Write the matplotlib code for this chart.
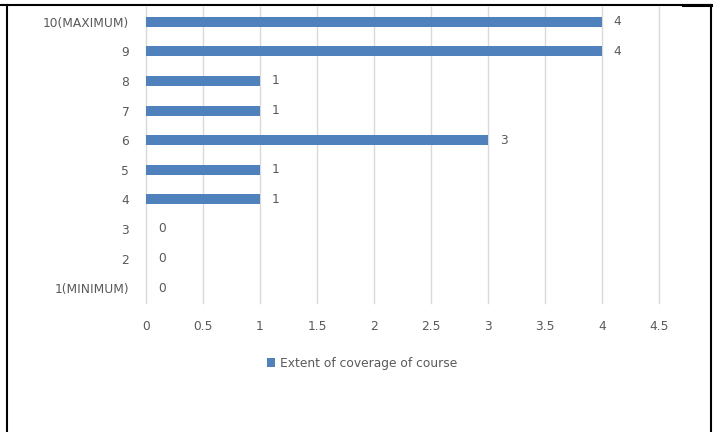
import matplotlib.pyplot as plt
from matplotlib.lines import Line2D
from matplotlib.patches import Patch

# rating categories (bottom to top) and number of responses
categories = ['1(MINIMUM)', '2', '3', '4', '5', '6', '7', '8', '9', '10(MAXIMUM)']
coverage = [0, 0, 0, 1, 1, 3, 1, 1, 4, 4]
x_ticks = [0, 0.5, 1, 1.5, 2, 2.5, 3, 3.5, 4, 4.5]
x_tick_labels = ['0', '0.5', '1', '1.5', '2', '2.5', '3', '3.5', '4', '4.5']
series_name = 'Extent of coverage of course'

bar_color = '#4F81BD'
text_color = '#595959'
grid_color = '#D9D9D9'

plt.rcParams['font.family'] = ['DejaVu Sans']

W, H = 718, 432
fig = plt.figure(figsize=(W / 100, H / 100), dpi=100)
fig.patch.set_facecolor('white')

# plot area in pixels: x 146..659, y 7..303
ax = fig.add_axes([146 / W, 1 - 303 / H, (659 - 146) / W, (303 - 7) / H])
ypos = list(range(len(categories)))
ax.barh(ypos, coverage, height=0.34, color=bar_color, zorder=3)

ax.set_xlim(0, 4.5)
ax.set_ylim(-0.5, len(categories) - 0.5)
ax.set_xticks(x_ticks)
ax.set_xticklabels(x_tick_labels)
ax.set_yticks(ypos)
ax.set_yticklabels(categories)
ax.tick_params(axis='both', length=0, labelsize=8.8, colors=text_color)
ax.tick_params(axis='x', pad=12)
ax.tick_params(axis='y', pad=12)
ax.grid(axis='x', color=grid_color, linewidth=1, zorder=0)
for gl in ax.get_xgridlines():
    gl.set_clip_on(False)
for s in ax.spines.values():
    s.set_visible(False)

# data labels
for y, v in zip(ypos, coverage):
    ax.annotate(str(v), (v, y), xytext=(8.5, 0), textcoords='offset points',
                ha='left', va='center', fontsize=8.8, color=text_color)

# legend
handle = Patch(facecolor=bar_color, edgecolor='none')
fig.legend([handle], [series_name], loc='center', bbox_to_anchor=(362 / W, 1 - 363 / H),
           frameon=False, fontsize=8.8, labelcolor=text_color,
           handlelength=0.7, handleheight=0.8, handletextpad=0.4)

# table cell border around the chart
fig.add_artist(Line2D([0, 711 / W], [1 - 5 / H, 1 - 5 / H], color='black', lw=1.5))
fig.add_artist(Line2D([683 / W, 711 / W], [1 - 5 / H, 1 - 5 / H], color='black', lw=2.2))
fig.add_artist(Line2D([7 / W, 7 / W], [0, 1 - 5 / H], color='black', lw=1.5))
fig.add_artist(Line2D([711 / W, 711 / W], [0, 1 - 5 / H], color='black', lw=1.5))

fig.savefig('out.png', dpi=100)
